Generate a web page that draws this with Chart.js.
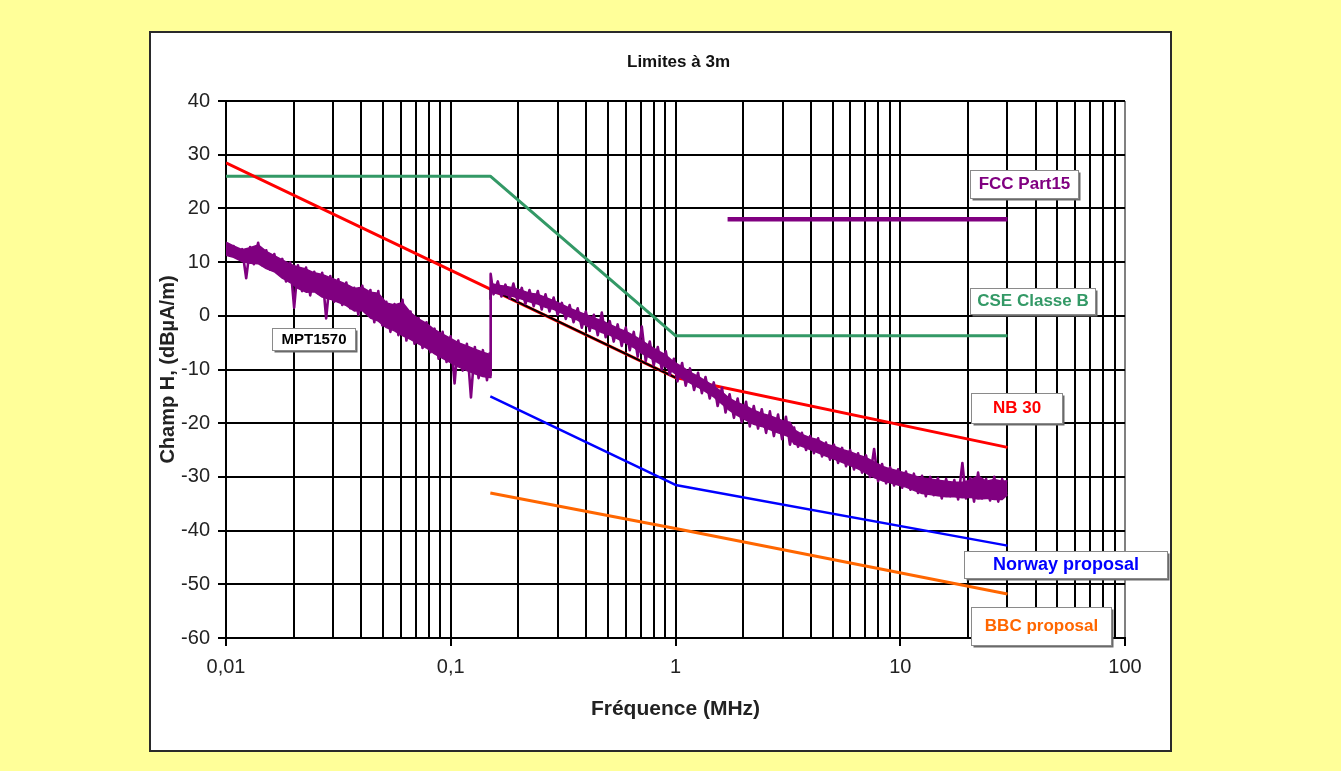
<!DOCTYPE html>
<html><head><meta charset="utf-8">
<script src="https://cdn.jsdelivr.net/npm/chart.js@4.4.0/dist/chart.umd.min.js"></script>
<style>html,body{margin:0;padding:0;background:#FFFF99;}canvas{display:block}</style>
</head><body>
<canvas id="c" width="1341" height="771"></canvas>
<script>
// ---------- data ----------
const xGridTicks = [0.01,0.02,0.03,0.04,0.05,0.06,0.07,0.08,0.09,
  0.1,0.2,0.3,0.4,0.5,0.6,0.7,0.8,0.9,
  1,2,3,4,5,6,7,8,9,
  10,20,30,40,50,60,70,80,90,100];
const xMajorTicks = [0.01,0.1,1,10,100];
const xMajorLabels = ['0,01','0,1','1','10','100'];
const yTicks = [-60,-50,-40,-30,-20,-10,0,10,20,30,40];

const nb30F = [0.01, 1, 30];
const nb30V = [28.5, -11.5, -24.5];
const cseF = [0.01, 0.15, 1, 30];
const cseV = [26, 26, -3.7, -3.7];
const fccF = [1.705, 30];
const fccV = [18, 18];
const norwayF = [0.15, 1, 30];
const norwayV = [-15, -31.5, -42.8];
const bbcF = [0.15, 1, 30];
const bbcV = [-33, -39.6, -51.8];
const blackF = [0.15, 0.15, 1];
const blackV = [3, 5, -11.5];

// MPT1570 measured trace (noisy), read point by point
const mptF = [0.0100,0.0104,0.0108,0.0113,0.0118,0.0123,0.0128,0.0133,0.0139,0.0145,0.0151,0.0157,0.0164,0.0171,0.0178,0.0185,0.0193,0.0201,0.0209,0.0218,
0.0227,0.0237,0.0247,0.0257,0.0268,0.0279,0.0291,0.0303,0.0316,0.0329,0.0343,0.0357,0.0372,0.0388,0.0404,0.0421,0.0439,0.0457,0.0476,0.0496,
0.0517,0.0539,0.0562,0.0585,0.0610,0.0635,0.0662,0.0690,0.0719,0.0749,0.0780,0.0813,0.0847,0.0883,0.0920,0.0958,0.0998,0.104,0.108,0.113,
0.118,0.123,0.128,0.133,0.139,0.145,0.149,0.150,0.1505,
0.155,0.162,0.168,0.175,0.183,0.190,0.198,0.207,0.215,0.224,0.234,0.244,0.254,0.264,0.275,0.287,0.299,0.312,0.325,0.338,
0.352,0.367,0.383,0.399,0.415,0.433,0.451,0.470,0.489,0.510,0.531,0.553,0.576,0.601,0.626,0.652,0.679,0.708,0.737,0.768,
0.800,0.834,0.869,0.905,0.943,0.983,1.02,1.07,1.11,1.16,1.21,1.26,1.31,1.36,1.42,1.48,1.54,1.61,1.67,1.74,
1.82,1.89,1.97,2.06,2.14,2.23,2.33,2.42,2.53,2.63,2.74,2.86,2.98,3.10,3.23,3.37,3.51,3.65,3.81,3.97,
4.13,4.31,4.49,4.67,4.87,5.07,5.29,5.51,5.74,5.98,6.23,6.49,6.76,7.04,7.34,7.65,7.97,8.30,8.65,9.01,
9.39,9.78,10.2,10.6,11.1,11.5,12.0,12.5,13.0,13.6,14.1,14.7,15.3,16.0,16.7,17.4,18.1,18.9,19.6,20.5,
21.3,22.2,23.1,24.1,25.1,26.2,27.3,28.4,29.6,30.0];
const mptV = [13.5,11.2,13.0,10.8,12.4,7.0,12.8,9.6,13.6,9.4,12.2,8.6,11.5,8.0,10.6,6.4,9.9,1.5,9.4,4.6,
9.0,3.8,8.2,4.2,8.0,-0.5,7.4,2.6,6.8,2.0,6.2,1.4,5.2,0.2,5.6,0.6,4.8,-1.2,4.6,-1.8,
2.6,-3.0,2.2,-3.6,3.0,-4.6,0.8,-5.2,-0.4,-6.0,-1.2,-6.8,-2.4,-8.0,-3.0,-8.6,-3.8,-12.6,-4.6,-10.2,
-5.2,-15.2,-5.8,-11.6,-6.4,-12.0,-7.0,-11.0,7.8,
4.0,6.4,3.6,5.8,3.2,6.0,2.8,5.2,2.2,4.8,1.8,4.6,1.2,4.0,0.8,3.4,0.2,2.4,-0.6,2.0,
-1.2,1.4,-2.2,0.8,-2.8,0.2,-3.6,0.6,-4.0,-1.0,-4.8,-1.6,-5.6,-2.2,-6.4,-3.0,-7.6,-2.0,-8.4,-4.8,
-9.2,-5.8,-10.0,-6.6,-11.0,-8.0,-12.2,-8.8,-13.0,-9.8,-13.8,-10.6,-14.4,-11.4,-15.4,-12.4,-16.8,-13.4,-18.0,-14.6,
-19.0,-15.4,-19.8,-16.0,-20.6,-16.8,-21.0,-17.4,-21.8,-17.8,-22.4,-18.4,-23.0,-18.8,-24.0,-20.8,-24.4,-21.8,-25.0,-22.4,
-25.6,-22.8,-26.2,-23.6,-26.8,-24.0,-27.4,-24.6,-28.0,-25.0,-28.6,-25.6,-29.2,-26.0,-30.0,-24.8,-30.8,-27.6,-31.2,-28.2,
-31.6,-28.6,-32.0,-29.0,-32.4,-29.4,-33.0,-29.8,-33.6,-30.0,-33.4,-30.2,-34.0,-30.4,-33.6,-30.6,-34.2,-27.4,-34.0,-30.2,
-34.6,-29.2,-34.0,-30.4,-34.4,-30.0,-34.6,-30.4,-33.0];

// upper and lower edges of the solid core of the same noisy trace
const bandF = [0.0100,0.0108,0.0118,0.0128,0.0139,0.0151,0.0164,0.0178,0.0193,0.0209,0.0227,0.0247,0.0268,0.0291,0.0316,0.0343,0.0372,0.0404,0.0439,0.0476,
0.0517,0.0562,0.0610,0.0662,0.0719,0.0780,0.0847,0.0920,0.0998,0.108,0.118,0.128,0.139,0.149,0.150,
0.151,0.162,0.175,0.190,0.207,0.224,0.244,0.264,0.287,0.312,0.338,0.367,0.399,0.433,0.470,0.510,0.553,0.601,0.652,0.708,
0.768,0.834,0.905,0.983,1.07,1.16,1.26,1.36,1.48,1.61,1.74,1.89,2.06,2.23,2.42,2.63,2.86,3.10,3.23,3.37,
3.65,3.97,4.31,4.67,5.07,5.51,5.98,6.49,7.04,7.65,8.30,9.01,9.78,10.6,11.5,12.5,13.6,14.7,16.0,17.4,
18.9,20.5,22.2,24.1,26.2,28.4,30.0];
const bandTopV = [13.7,13.0,12.3,12.7,13.2,12.0,11.2,10.4,9.6,9.1,8.7,8.0,7.7,7.1,6.5,5.9,5.1,5.3,4.4,4.2,
2.4,2.0,2.5,0.6,-0.6,-1.4,-2.6,-3.4,-4.2,-5.0,-5.6,-6.2,-6.8,-7.2,-7.2,
6.0,5.7,5.5,5.2,4.7,4.2,4.0,3.4,2.8,2.1,1.4,0.8,0.2,-0.4,-0.9,-1.6,-2.3,-2.9,-3.7,-4.6,
-5.6,-6.5,-7.3,-8.6,-9.5,-10.5,-11.3,-12.1,-13.1,-14.2,-15.4,-16.2,-16.8,-17.6,-18.2,-18.6,-19.2,-19.7,-19.8,-21.2,
-22.1,-22.7,-23.1,-23.9,-24.3,-24.9,-25.3,-25.9,-26.4,-27.2,-28.0,-28.5,-28.9,-29.3,-29.8,-30.2,-30.4,-30.6,-30.8,-31.0,
-31.0,-30.6,-29.8,-30.8,-30.5,-30.8,-30.7];
const bandBotV = [11.3,10.9,10.1,9.8,9.7,8.8,8.2,7.0,6.2,5.1,4.4,4.5,3.5,3.1,2.5,1.9,0.9,1.0,-0.4,-1.0,
-2.2,-2.8,-3.7,-4.4,-5.2,-6.0,-7.1,-7.9,-8.7,-9.5,-10.2,-10.8,-11.3,-11.5,-11.5,
4.4,4.1,3.9,3.6,3.1,2.6,2.2,1.6,1.2,0.5,-0.2,-0.8,-1.8,-2.4,-3.1,-3.6,-4.3,-5.1,-5.9,-7.0,
-7.8,-8.7,-9.5,-10.6,-11.7,-12.5,-13.3,-14.1,-15.1,-16.4,-17.6,-18.6,-19.4,-20.2,-20.6,-21.2,-21.8,-22.3,-22.6,-23.9,
-24.3,-24.9,-25.5,-26.1,-26.7,-27.3,-27.9,-28.5,-29.3,-30.1,-30.7,-31.1,-31.5,-31.9,-32.5,-33.1,-33.3,-33.5,-33.7,-33.7,
-33.9,-33.8,-34.1,-34.0,-34.2,-34.2,-33.3];

const labelTexts = ['FCC Part15','CSE Classe B','NB 30','Norway proposal','BBC proposal','MPT1570'];
const labelColors = ['#800080','#339966','#FF0000','#0000FF','#FF6600','#000000'];
// anchor: left edge frequency, centre value (data coords)
const labelAnchorF = [20.5, 20.5, 20.7, 19.2, 20.7, 0.016];
const labelAnchorV = [24.6, 2.8, -17.1, -46.3, -57.7, -4.3];
const labelBoxW = [108, 125, 91, 203, 140, 83];
const labelBoxH = [28, 26, 30, 27, 38, 22];
const labelFontSize = [17, 17, 17, 18, 17, 15];

const pts = (F, V) => F.map((f, i) => ({x: f, y: V[i]}));
const FONT = '"Liberation Sans", Arial, sans-serif';
const PURPLE = '#800080';

// ---------- plugins ----------
const frame = {
  id: 'frame',
  beforeDraw(chart) {
    const ctx = chart.ctx;
    ctx.save();
    ctx.fillStyle = '#FFFF99';
    ctx.fillRect(0, 0, chart.width, chart.height);
    ctx.fillStyle = '#FFFFFF';
    ctx.fillRect(149, 31, 1023, 721);
    ctx.strokeStyle = '#2a2a2a';
    ctx.lineWidth = 2;
    ctx.strokeRect(150, 32, 1021, 719);
    const a = chart.chartArea;
    ctx.fillStyle = '#111';
    ctx.font = 'bold 17px ' + FONT;
    ctx.textAlign = 'center';
    ctx.textBaseline = 'middle';
    ctx.fillText('Limites à 3m', (a.left + a.right) / 2 + 3, 62);
    ctx.restore();
  }
};
const boxes = {
  id: 'boxes',
  afterDatasetsDraw(chart) {
    const ctx = chart.ctx, xs = chart.scales.x, ys = chart.scales.y;
    ctx.save();
    labelTexts.forEach((t, i) => {
      const x = Math.round(xs.getPixelForValue(labelAnchorF[i])) + 0.5;
      const yc = ys.getPixelForValue(labelAnchorV[i]);
      const w = labelBoxW[i], h = labelBoxH[i];
      const y = Math.round(yc - h / 2) + 0.5;
      ctx.fillStyle = '#6a6a6a';
      ctx.fillRect(x + 2, y + 2, w, h);
      ctx.fillStyle = '#ffffff';
      ctx.fillRect(x, y, w, h);
      ctx.strokeStyle = '#8a8a8a';
      ctx.lineWidth = 1;
      ctx.strokeRect(x, y, w, h);
      ctx.fillStyle = labelColors[i];
      ctx.font = 'bold ' + labelFontSize[i] + 'px ' + FONT;
      ctx.textAlign = 'center';
      ctx.textBaseline = 'middle';
      ctx.fillText(t, x + w / 2, yc + 1);
    });
    ctx.restore();
  }
};

const mkDs = (label, F, V, color, width, order) => ({
  label, data: pts(F, V), borderColor: color, backgroundColor: color,
  borderWidth: width, pointRadius: 0, tension: 0, order, fill: false,
  borderJoinStyle: 'round', borderCapStyle: 'butt'
});

const bandTop = mkDs('MPT1570 haut', bandF, bandTopV, PURPLE, 1.5, 2);
const bandBot = mkDs('MPT1570 bas', bandF, bandBotV, PURPLE, 1.5, 2);
bandBot.fill = {target: 1};
bandBot.backgroundColor = PURPLE;

new Chart(document.getElementById('c'), {
  type: 'line',
  data: {
    datasets: [
      mkDs('MPT1570', mptF, mptV, PURPLE, 2.6, 1),
      bandTop,
      bandBot,
      mkDs('MPT1570 limite', blackF, blackV, '#000000', 2, 3),
      mkDs('NB 30', nb30F, nb30V, '#FF0000', 3, 4),
      mkDs('CSE Classe B', cseF, cseV, '#339966', 3, 5),
      mkDs('FCC Part15', fccF, fccV, PURPLE, 4.5, 6),
      mkDs('Norway proposal', norwayF, norwayV, '#0000FF', 2.5, 7),
      mkDs('BBC proposal', bbcF, bbcV, '#FF6600', 3, 8)
    ]
  },
  options: {
    responsive: false,
    animation: false,
    devicePixelRatio: 1,
    layout: {padding: {left: 156, right: 216, top: 101, bottom: 40}},
    plugins: {legend: {display: false}, tooltip: {enabled: false}, title: {display: false},
      filler: {propagate: false}},
    scales: {
      x: {
        type: 'logarithmic', min: 0.01, max: 100,
        afterBuildTicks: s => { s.ticks = xGridTicks.map(v => ({value: v, major: xMajorTicks.includes(v)})); },
        afterFit: s => { s.height = 93; },
        ticks: {
          autoSkip: false, maxRotation: 0, minRotation: 0, padding: 9,
          color: '#222', font: {family: FONT, size: 20},
          callback: (v) => { const k = xMajorTicks.indexOf(v); return k >= 0 ? xMajorLabels[k] : ''; }
        },
        grid: {
          color: c => (c.tick && c.tick.value === 100) ? '#808080' : '#000000',
          lineWidth: 2, tickLength: 8,
          tickColor: c => (c.tick && xMajorTicks.includes(c.tick.value)) ? '#000000' : 'rgba(0,0,0,0)'
        },
        border: {color: '#000', width: 2},
        title: {display: true, text: 'Fréquence (MHz)', color: '#222',
          font: {family: FONT, size: 21, weight: 'bold'},
          padding: {top: 0, bottom: 9}}
      },
      y: {
        type: 'linear', min: -60, max: 40,
        afterBuildTicks: s => { s.ticks = yTicks.map(v => ({value: v})); },
        afterFit: s => { s.width = 70; },
        ticks: {color: '#222', padding: 8, font: {family: FONT, size: 20}},
        grid: {color: '#000', lineWidth: 2, tickLength: 8, tickColor: '#000'},
        border: {color: '#000', width: 2},
        title: {display: true, text: 'Champ H, (dBµA/m)', color: '#222',
          font: {family: FONT, size: 20, weight: 'bold'},
          padding: {top: 0, bottom: 0}}
      }
    }
  },
  plugins: [frame, boxes]
});
</script>
</body></html>
